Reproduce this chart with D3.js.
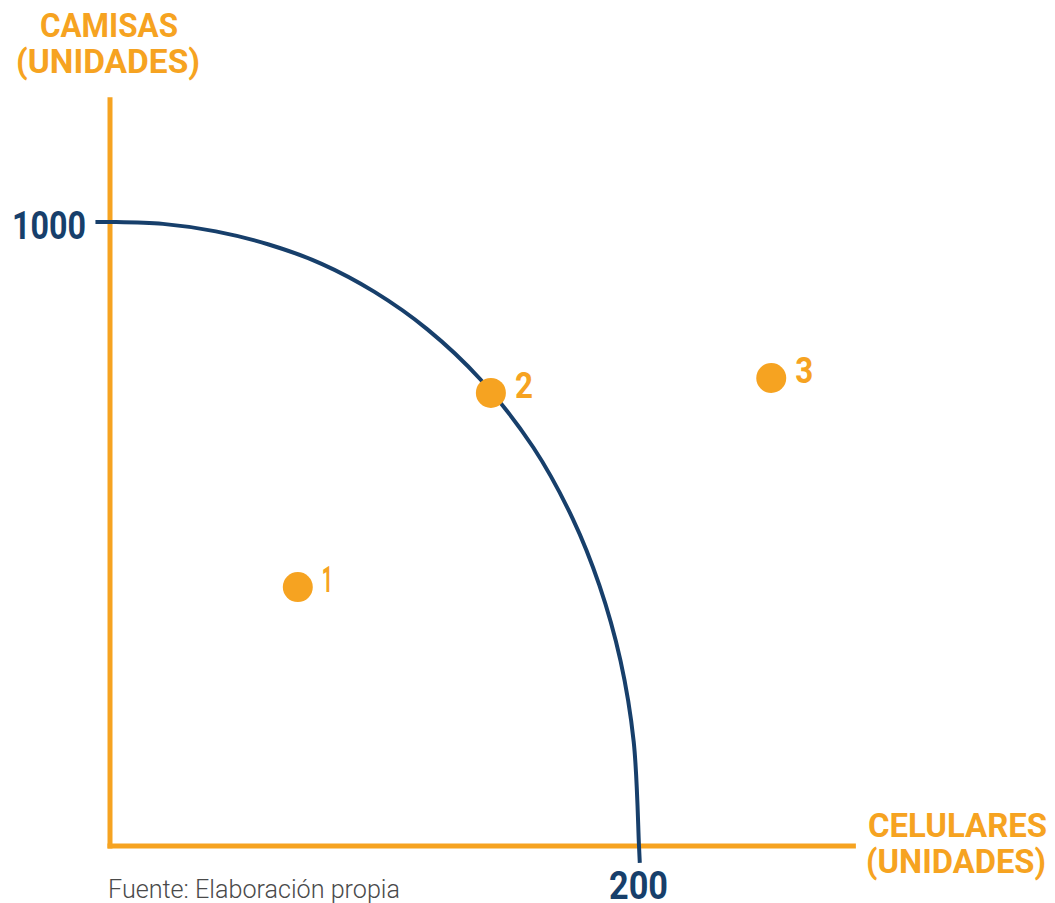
<!DOCTYPE html>
<html>
<head>
<meta charset="utf-8">
<script src="https://cdn.jsdelivr.net/npm/d3@7"></script>
<style>
  body { margin: 0; background: #fff; }
  text { font-family: Roboto, "Noto Sans", sans-serif; }
</style>
</head>
<body>
<div id="chart"></div>
<script>
// frontera de posibilidades de produccion
var frontierX = [-5.5, 0, 20, 40, 60, 80, 100, 120, 140, 160, 175, 185, 193, 198, 200, 200.3];
var frontierY = [1000, 1000, 997, 985, 964, 933, 888, 828, 748, 639, 524, 418, 297, 167, 0, -27];

var pointNames = ["1", "2", "3"];
var pointX = [71, 144, 250];
var pointY = [415, 726, 750];

var xTicks = [200];
var yTicks = [1000];

var orange = "#f6a321";
var navy = "#173f6b";

var width = 1055, height = 903;

var svg = d3.select("#chart")
	.append("svg")
	.attr("width", width)
	.attr("height", height);

var x = d3.scaleLinear().domain([0, 200]).range([110, 639]);
var y = d3.scaleLinear().domain([0, 1000]).range([846, 222]);

// ejes
svg.append("line")
	.attr("x1", x(0)).attr("x2", x(0))
	.attr("y1", y(0) + 2.5).attr("y2", y(1200))
	.style("stroke", orange)
	.style("stroke-width", 5);

svg.append("line")
	.attr("x1", x(0) - 2.5).attr("x2", x(282))
	.attr("y1", y(0)).attr("y2", y(0))
	.style("stroke", orange)
	.style("stroke-width", 5);

// curva
var frontier = frontierX.map(function(d, i) { return [d, frontierY[i]]; });

var line = d3.line()
	.x(function(d) { return x(d[0]); })
	.y(function(d) { return y(d[1]); })
	.curve(d3.curveCatmullRom.alpha(0.5));

svg.append("path")
	.datum(frontier)
	.attr("d", line)
	.style("fill", "none")
	.style("stroke", navy)
	.style("stroke-width", 4);

// ticks
svg.selectAll(".ytick")
	.data(yTicks)
	.enter().append("text")
	.attr("class", "ytick")
	.attr("x", 12)
	.attr("y", function(d) { return y(d) + 17; })
	.attr("textLength", 74)
	.attr("lengthAdjust", "spacingAndGlyphs")
	.style("font-size", "39px")
	.style("font-weight", "bold")
	.style("fill", navy)
	.text(function(d) { return d; });

svg.selectAll(".xtick")
	.data(xTicks)
	.enter().append("text")
	.attr("class", "xtick")
	.attr("x", function(d) { return x(d) - 30; })
	.attr("y", 899)
	.attr("textLength", 59)
	.attr("lengthAdjust", "spacingAndGlyphs")
	.style("font-size", "38px")
	.style("font-weight", "bold")
	.style("fill", navy)
	.text(function(d) { return d; });

// puntos
var pts = pointNames.map(function(d, i) { return { name: d, x: pointX[i], y: pointY[i] }; });

svg.selectAll(".dot")
	.data(pts)
	.enter().append("circle")
	.attr("class", "dot")
	.attr("cx", function(d) { return x(d.x); })
	.attr("cy", function(d) { return y(d.y); })
	.attr("r", 15)
	.style("fill", orange);

svg.selectAll(".dotlabel")
	.data(pts)
	.enter().append("text")
	.attr("class", "dotlabel")
	.attr("x", function(d) { return x(d.x) + 24; })
	.attr("y", function(d) { return y(d.y) + 5; })
	.attr("textLength", function(d) { return d.name == "1" ? 11 : 18; })
	.attr("lengthAdjust", "spacingAndGlyphs")
	.style("font-size", "36px")
	.style("font-weight", "bold")
	.style("fill", orange)
	.text(function(d) { return d.name; });

// titulos de ejes
function title(lines, xs, lens, ys) {
	lines.forEach(function(t, i) {
		svg.append("text")
			.attr("x", xs[i])
			.attr("y", ys[i])
			.attr("textLength", lens[i])
			.attr("lengthAdjust", "spacingAndGlyphs")
			.style("font-size", "34px")
			.style("font-weight", "bold")
			.style("fill", orange)
			.text(t);
	});
}
title(["CAMISAS", "(UNIDADES)"], [40, 16], [138, 184], [37, 73]);
title(["CELULARES", "(UNIDADES)"], [868, 866], [179, 180], [837, 873]);

// fuente
svg.append("text")
	.attr("x", 108)
	.attr("y", 898)
	.attr("textLength", 292)
	.attr("lengthAdjust", "spacingAndGlyphs")
	.style("font-size", "25px")
	.style("font-weight", 300)
	.style("fill", "#4a4a4a")
	.text("Fuente: Elaboración propia");
</script>
</body>
</html>
